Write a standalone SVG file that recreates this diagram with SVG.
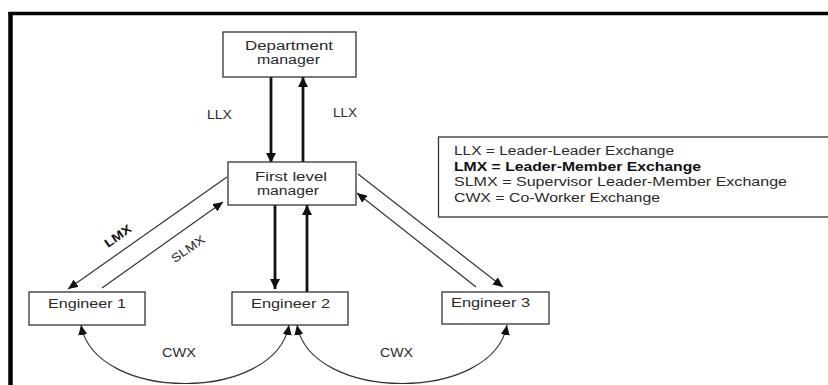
<svg xmlns="http://www.w3.org/2000/svg" width="828" height="385" viewBox="0 0 828 385">
<style>
.box{fill:#fff;stroke:#333;stroke-width:1.3}
.t{font-family:"Liberation Sans","Open Sans",sans-serif;font-size:12px;fill:#2a2a2a}
.c{text-anchor:middle}
.b{font-weight:bold;fill:#111}
.thin{fill:none;stroke:#333;stroke-width:1.2}
.thick{fill:none;stroke:#111;stroke-width:2.8}
</style>
<defs>
<marker id="ah" markerUnits="userSpaceOnUse" markerWidth="11" markerHeight="9" refX="10" refY="4.5" orient="auto-start-reverse">
<path d="M0,0 L10,4.5 L0,9 z" fill="#111"/>
</marker>
<marker id="ahT" markerUnits="userSpaceOnUse" markerWidth="11" markerHeight="10" refX="10" refY="5" orient="auto">
<path d="M0,0 L10,5 L0,10 z" fill="#111"/>
</marker>
</defs>
<rect width="828" height="385" fill="#fff"/>
<g id="frame">
<line x1="8.5" y1="13.5" x2="828" y2="13.5" stroke="#000" stroke-width="3.5"/>
<line x1="10.5" y1="12" x2="10.5" y2="385" stroke="#000" stroke-width="4.5"/>
</g>
<g id="connectors">
<line class="thick" x1="271" y1="77" x2="271" y2="163" marker-end="url(#ahT)"/>
<line class="thick" x1="303" y1="162" x2="303" y2="77" marker-end="url(#ahT)"/>
<line class="thick" x1="275" y1="205" x2="275" y2="289" marker-end="url(#ahT)"/>
<line class="thick" x1="307" y1="292" x2="307" y2="205" marker-end="url(#ahT)"/>
<line class="thin" x1="227" y1="177" x2="68" y2="289" marker-end="url(#ah)"/>
<line class="thin" x1="102" y1="288" x2="223" y2="202" marker-end="url(#ah)"/>
<line class="thin" x1="358" y1="174" x2="503" y2="287" marker-end="url(#ah)"/>
<line class="thin" x1="476" y1="287" x2="357" y2="193" marker-end="url(#ah)"/>
<path class="thin" d="M81,325 C95,403 275,403 289,325" marker-start="url(#ah)" marker-end="url(#ah)"/>
<path class="thin" d="M297,325 C311,403 493,403 507,325" marker-start="url(#ah)" marker-end="url(#ah)"/>
<text class="t" x="207" y="119" textLength="25" lengthAdjust="spacingAndGlyphs">LLX</text>
<text class="t" x="333" y="117" textLength="24" lengthAdjust="spacingAndGlyphs">LLX</text>
<text class="t c b" transform="translate(118,236) rotate(-35)" x="0" y="4" textLength="30" lengthAdjust="spacingAndGlyphs">LMX</text>
<text class="t c" transform="translate(188,249) rotate(-35)" x="0" y="4" textLength="38" lengthAdjust="spacingAndGlyphs">SLMX</text>
<text class="t" x="162" y="357" textLength="34" lengthAdjust="spacingAndGlyphs">CWX</text>
<text class="t" x="380" y="357" textLength="33" lengthAdjust="spacingAndGlyphs">CWX</text>
</g>
<g id="dept">
<rect class="box" x="223" y="32" width="133" height="45"/>
<text class="t" x="245" y="50" textLength="88" lengthAdjust="spacingAndGlyphs">Department</text>
<text class="t" x="257" y="64" textLength="63" lengthAdjust="spacingAndGlyphs">manager</text>
</g>
<g id="flm">
<rect class="box" x="228" y="162" width="128" height="43"/>
<text class="t" x="255" y="180.5" textLength="72" lengthAdjust="spacingAndGlyphs">First level</text>
<text class="t" x="257" y="195" textLength="62" lengthAdjust="spacingAndGlyphs">manager</text>
</g>
<g id="eng1">
<rect class="box" x="29" y="292" width="116" height="33"/>
<text class="t" x="48" y="308" textLength="78" lengthAdjust="spacingAndGlyphs">Engineer 1</text>
</g>
<g id="eng2">
<rect class="box" x="232" y="292" width="116" height="33"/>
<text class="t" x="251" y="308" textLength="79" lengthAdjust="spacingAndGlyphs">Engineer 2</text>
</g>
<g id="eng3">
<rect class="box" x="442" y="292" width="107" height="32"/>
<text class="t" x="451" y="307" textLength="79" lengthAdjust="spacingAndGlyphs">Engineer 3</text>
</g>
<g id="legend">
<rect class="box" x="438.5" y="137" width="400" height="80"/>
<text class="t" x="454" y="155" textLength="220" lengthAdjust="spacingAndGlyphs">LLX = Leader-Leader Exchange</text>
<text class="t b" x="454" y="170.5" textLength="247" lengthAdjust="spacingAndGlyphs">LMX = Leader-Member Exchange</text>
<text class="t" x="454" y="186" textLength="333" lengthAdjust="spacingAndGlyphs">SLMX = Supervisor Leader-Member Exchange</text>
<text class="t" x="454" y="201.5" textLength="206" lengthAdjust="spacingAndGlyphs">CWX = Co-Worker Exchange</text>
</g>
</svg>
